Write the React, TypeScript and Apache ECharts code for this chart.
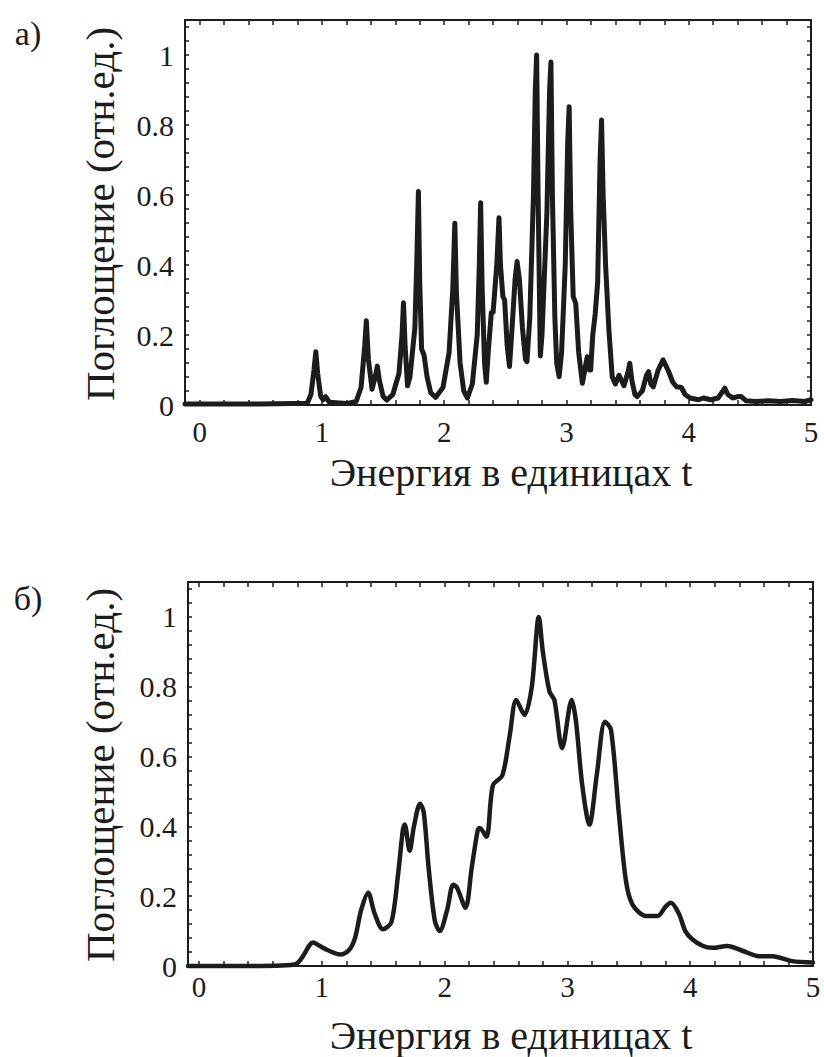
import React, { useEffect, useRef } from "react";
import * as echarts from "echarts";

// Panel а) — spiky absorption spectrum
const energyA = [
  -0.12, 0.5, 0.88, 0.91, 0.935, 0.95, 0.965, 0.99, 1.01, 1.03, 1.06, 1.2, 1.28, 1.32, 1.35, 1.363, 1.38, 1.41,
  1.435, 1.453, 1.47, 1.5, 1.53, 1.58, 1.63, 1.655, 1.667, 1.68, 1.7, 1.72, 1.76, 1.775, 1.789, 1.8, 1.815,
  1.835, 1.86, 1.89, 1.93, 1.99, 2.04, 2.07, 2.087, 2.1, 2.13, 2.16, 2.19, 2.23, 2.27, 2.287, 2.298, 2.31,
  2.33, 2.344, 2.36, 2.385, 2.4, 2.43, 2.448, 2.46, 2.48, 2.494, 2.515, 2.534, 2.555, 2.58, 2.596, 2.615,
  2.64, 2.665, 2.677, 2.7, 2.73, 2.745, 2.756, 2.768, 2.786, 2.8, 2.84, 2.862, 2.873, 2.885, 2.905, 2.92,
  2.94, 2.96, 2.99, 3.01, 3.022, 3.035, 3.055, 3.076, 3.1, 3.13, 3.15, 3.17, 3.188, 3.198, 3.215, 3.235,
  3.255, 3.275, 3.287, 3.3, 3.32, 3.347, 3.374, 3.4, 3.43, 3.47, 3.5, 3.518, 3.535, 3.56, 3.577, 3.62,
  3.655, 3.672, 3.69, 3.71, 3.75, 3.79, 3.83, 3.87, 3.9, 3.94, 3.97, 4.01, 4.08, 4.12, 4.18, 4.24, 4.28,
  4.295, 4.32, 4.36, 4.4, 4.43, 4.47, 4.55, 4.65, 4.75, 4.85, 4.95, 5.0,
];
const absorptionA = [
  0.003, 0.003, 0.005, 0.03, 0.1, 0.152, 0.09, 0.025, 0.015, 0.024, 0.008, 0.004, 0.01, 0.05, 0.17, 0.241, 0.13, 0.045,
  0.08, 0.111, 0.07, 0.025, 0.014, 0.03, 0.09, 0.2, 0.292, 0.17, 0.055, 0.08, 0.22, 0.4, 0.61, 0.35, 0.16,
  0.143, 0.08, 0.035, 0.022, 0.05, 0.15, 0.33, 0.519, 0.32, 0.12, 0.04, 0.02, 0.06, 0.2, 0.4, 0.578, 0.34,
  0.12, 0.065, 0.15, 0.263, 0.265, 0.4, 0.535, 0.4, 0.31, 0.3, 0.17, 0.11, 0.22, 0.36, 0.41, 0.36,
  0.22, 0.13, 0.124, 0.25, 0.6, 0.9, 1.0, 0.6, 0.14, 0.2, 0.55, 0.9, 0.98, 0.6, 0.25, 0.12,
  0.081, 0.15, 0.4, 0.75, 0.852, 0.55, 0.31, 0.29, 0.15, 0.062, 0.1, 0.138, 0.1, 0.1, 0.2, 0.26,
  0.35, 0.7, 0.814, 0.6, 0.4, 0.214, 0.081, 0.06, 0.085, 0.055, 0.09, 0.119, 0.07, 0.03, 0.024, 0.04,
  0.085, 0.095, 0.06, 0.052, 0.1, 0.129, 0.1, 0.065, 0.052, 0.05, 0.03, 0.02, 0.015, 0.02, 0.015, 0.02, 0.04,
  0.048, 0.03, 0.02, 0.024, 0.024, 0.012, 0.01, 0.012, 0.01, 0.013, 0.01, 0.015,
];

// Panel б) — broadened spectrum
const energyB = [
  -0.09, 0.5, 0.75, 0.8, 0.85, 0.9, 0.93, 0.97, 1.05, 1.15, 1.22, 1.27, 1.32, 1.377, 1.43, 1.498, 1.567,
  1.62, 1.66, 1.675, 1.715, 1.75, 1.8, 1.83, 1.87, 1.92, 1.96, 2.02, 2.07, 2.1, 2.17, 2.22, 2.27, 2.285,
  2.34, 2.393, 2.47, 2.53, 2.583, 2.65, 2.71, 2.767, 2.8, 2.854, 2.894, 2.957, 3.035, 3.07, 3.12, 3.179,
  3.24, 3.306, 3.355, 3.42, 3.477, 3.53, 3.64, 3.734, 3.8, 3.843, 3.91, 3.96, 4.019, 4.1, 4.18, 4.3, 4.43,
  4.56, 4.67, 4.83, 5.0,
];
const absorptionB = [
  0.0, 0.0, 0.003, 0.008, 0.03, 0.06, 0.067, 0.06, 0.045, 0.033, 0.045, 0.08, 0.16, 0.21, 0.15, 0.105, 0.126,
  0.26, 0.39, 0.405, 0.33, 0.4, 0.465, 0.44, 0.28, 0.13, 0.1, 0.16, 0.233, 0.225, 0.167, 0.28, 0.39, 0.395,
  0.37, 0.517, 0.546, 0.66, 0.762, 0.719, 0.8, 1.0, 0.9, 0.786, 0.762, 0.624, 0.762, 0.7, 0.52, 0.405,
  0.55, 0.7, 0.676, 0.433, 0.243, 0.176, 0.143, 0.143, 0.17, 0.181, 0.148, 0.1, 0.076, 0.058, 0.052, 0.057, 0.043,
  0.028, 0.028, 0.014, 0.01,
];

const xTickLabels = [0, 1, 2, 3, 4, 5];
const yTickLabels = [0, 0.2, 0.4, 0.6, 0.8, 1];
const xTickValues = [
  0, 0.2, 0.4, 0.6, 0.8, 1, 1.2, 1.4, 1.6, 1.8, 2, 2.2, 2.4, 2.6, 2.8, 3, 3.2, 3.4, 3.6, 3.8, 4, 4.2, 4.4,
  4.6, 4.8, 5,
];
const yTickValues = [
  0, 0.04, 0.08, 0.12, 0.16, 0.2, 0.24, 0.28, 0.32, 0.36, 0.4, 0.44, 0.48, 0.52, 0.56, 0.6, 0.64, 0.68,
  0.72, 0.76, 0.8, 0.84, 0.88, 0.92, 0.96, 1, 1.04, 1.08,
];

const panelLabels = ["а)", "б)"];
const yAxisTitle = "Поглощение (отн.ед.)";
const xAxisTitle = "Энергия в единицах t";

const FONT = '"Liberation Serif", "Times New Roman", "DejaVu Serif", serif';
const INK = "#1c1c1c";

function zip(xs: number[], ys: number[]) {
  return xs.map((x, i) => [x, ys[i]]);
}

function xAxes(gridIndex: number, min: number, labelMargin: number) {
  const common = {
    type: "value",
    gridIndex,
    min,
    max: 5,
    splitLine: { show: false },
    axisLine: { show: true, onZero: false, lineStyle: { color: INK, width: 2 } },
    axisTick: { show: true, inside: true, length: 5, customValues: xTickValues, lineStyle: { color: INK, width: 1.5 } },
  };
  return [
    {
      ...common,
      position: "bottom",
      axisLabel: {
        show: true,
        customValues: xTickLabels,
        margin: labelMargin,
        fontSize: 29,
        fontFamily: FONT,
        color: INK,
      },
    },
    { ...common, position: "top", axisLabel: { show: false } },
  ];
}

function yAxes(gridIndex: number) {
  const common = {
    type: "value",
    gridIndex,
    min: 0,
    max: 1.1,
    splitLine: { show: false },
    axisLine: { show: true, onZero: false, lineStyle: { color: INK, width: 2 } },
    axisTick: { show: true, inside: true, length: 4, customValues: yTickValues, lineStyle: { color: INK, width: 1.5 } },
  };
  return [
    {
      ...common,
      position: "left",
      axisLabel: {
        show: true,
        customValues: yTickLabels,
        margin: 11,
        fontSize: 30,
        fontFamily: FONT,
        color: INK,
      },
    },
    { ...common, position: "right", axisLabel: { show: false } },
  ];
}

export default function App() {
  const ref = useRef<HTMLDivElement>(null);
  useEffect(() => {
    if (!ref.current) return;
    const chart = echarts.init(ref.current, undefined, { renderer: "svg" });
    const textStyle = (text: string, size: number) => ({
      text,
      fontSize: size,
      fontFamily: FONT,
      fill: INK,
      align: "center",
      verticalAlign: "middle",
    });
    chart.setOption({
      animation: false,
      backgroundColor: "#ffffff",
      textStyle: { fontFamily: FONT },
      grid: [
        { left: 185, top: 20, width: 626, height: 385 },
        { left: 188, top: 582, width: 625, height: 384 },
      ],
      xAxis: [...xAxes(0, -0.12, 12), ...xAxes(1, -0.09, 6)],
      yAxis: [...yAxes(0), ...yAxes(1)],
      series: [
        {
          type: "line",
          xAxisIndex: 0,
          yAxisIndex: 0,
          data: zip(energyA, absorptionA),
          showSymbol: false,
          clip: false,
          lineStyle: { color: INK, width: 5, join: "round", cap: "round" },
        },
        {
          type: "line",
          xAxisIndex: 2,
          yAxisIndex: 2,
          data: zip(energyB, absorptionB),
          showSymbol: false,
          clip: false,
          smooth: 0.3,
          lineStyle: { color: INK, width: 4.5, join: "round", cap: "round" },
        },
      ],
      graphic: [
        { type: "text", x: 28, y: 33, style: textStyle(panelLabels[0], 34) },
        { type: "text", x: 28, y: 598, style: textStyle(panelLabels[1], 34) },
        { type: "text", x: 100, y: 214, rotation: Math.PI / 2, style: textStyle(yAxisTitle, 41) },
        { type: "text", x: 100, y: 775, rotation: Math.PI / 2, style: textStyle(yAxisTitle, 41) },
        { type: "text", x: 511, y: 472, style: textStyle(xAxisTitle, 40) },
        { type: "text", x: 511, y: 1035, style: textStyle(xAxisTitle, 40) },
      ],
    });
    return () => chart.dispose();
  }, []);
  return (
    <div
      ref={ref}
      style={{ position: "absolute", left: 0, top: 0, width: 824, height: 1057, background: "#fff" }}
    />
  );
}
